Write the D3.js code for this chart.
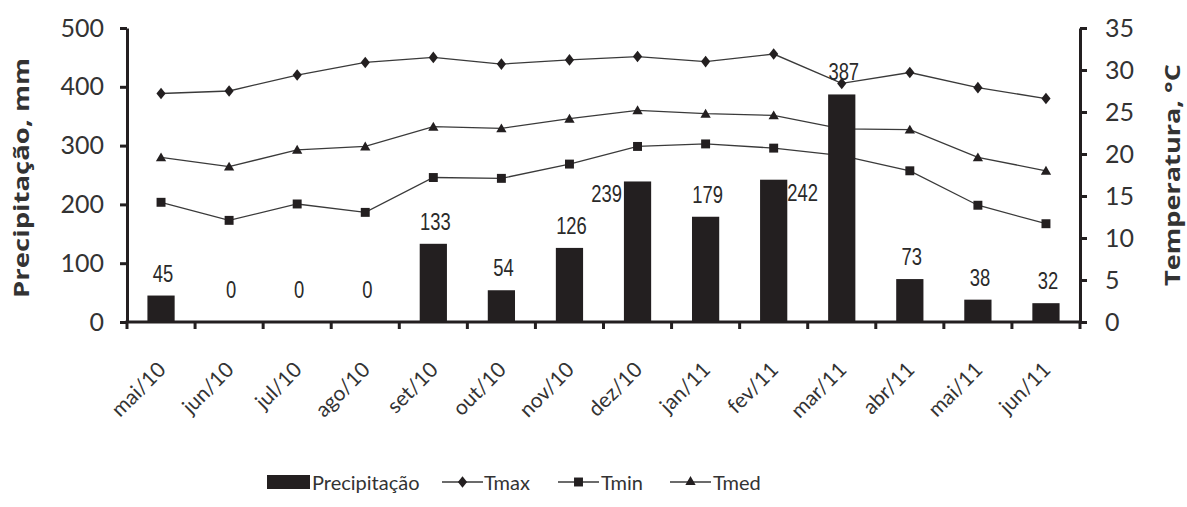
<!DOCTYPE html>
<html><head><meta charset="utf-8">
<script src="https://cdn.jsdelivr.net/npm/d3@7"></script>
<style>
html,body{margin:0;padding:0;background:#fff;}
svg{display:block;}
</style></head>
<body>
<svg id="chart" width="1187" height="507"></svg>
<script>
const categories = ["mai/10","jun/10","jul/10","ago/10","set/10","out/10","nov/10","dez/10","jan/11","fev/11","mar/11","abr/11","mai/11","jun/11"];
const precipitacao = [45,0,0,0,133,54,126,239,179,242,387,73,38,32];
const tmax = [27.2,27.5,29.4,30.9,31.5,30.7,31.2,31.6,31.0,31.9,28.4,29.7,27.9,26.6];
const tmin = [14.25,12.1,14.05,13.05,17.2,17.1,18.8,20.9,21.2,20.7,19.8,18.0,13.9,11.7];
const tmed = [19.6,18.5,20.5,20.9,23.25,23.05,24.2,25.2,24.8,24.6,23.0,22.9,19.6,18.0];
const leftTicks = [0,100,200,300,400,500];
const rightTicks = [0,5,10,15,20,25,30,35];
const legendLabels = ["Precipitação","Tmax","Tmin","Tmed"];

const ink = "#231f20";
const svg = d3.select("#chart");
const L = 127, R = 1080, T = 28, B = 322;

const x = d3.scaleBand().domain(categories).range([L, R]).paddingInner(0.6).paddingOuter(0.3);
const yL = d3.scaleLinear().domain([0, 500]).range([B, T]);
const yR = d3.scaleLinear().domain([0, 35]).range([B, T]);
const cx = c => x(c) + x.bandwidth() / 2;

// custom diamond
const diamond = { draw(ctx, size) { const w = 4.6, h = 5.8; ctx.moveTo(0,-h); ctx.lineTo(w,0); ctx.lineTo(0,h); ctx.lineTo(-w,0); ctx.closePath(); } };
const series = [
  { name: "Tmax", values: tmax, sym: d3.symbol().type(diamond)() },
  { name: "Tmin", values: tmin, sym: d3.symbol().type(d3.symbolSquare).size(80)() },
  { name: "Tmed", values: tmed, sym: d3.symbol().type(d3.symbolTriangle).size(46)() }
];

// lines
const line = d3.line().x((d,i) => cx(categories[i])).y(d => yR(d));
series.forEach(s => {
  svg.append("path").attr("d", line(s.values)).attr("fill","none").attr("stroke","#3a3a3a").attr("stroke-width",1.3);
  svg.append("g").selectAll("path").data(s.values).join("path")
    .attr("d", s.sym)
    .attr("transform", (d,i) => `translate(${cx(categories[i])},${yR(d) + (s.name==="Tmed"?1:0)})`)
    .attr("fill", ink);
});

// bars
svg.append("g").selectAll("rect").data(precipitacao).join("rect")
  .attr("x", (d,i) => x(categories[i]))
  .attr("width", x.bandwidth())
  .attr("y", d => yL(d))
  .attr("height", d => B - yL(d))
  .attr("fill", ink);

// data labels (condensed look)
const side = { "dez/10": "left", "fev/11": "right" };
svg.append("g").selectAll("text").data(precipitacao).join("text")
  .attr("font-family", "'Liberation Sans', sans-serif")
  .attr("font-size", 23)
  .attr("fill", "#2a2a2a")
  .attr("text-anchor", (d,i) => side[categories[i]] === "left" ? "end" : side[categories[i]] === "right" ? "start" : "middle")
  .attr("transform", (d,i) => {
    const c = categories[i];
    let px;
    if (side[c] === "left") px = x(c) - 2;
    else if (side[c] === "right") px = x(c) + x.bandwidth();
    else px = cx(c) + 2;
    const py = side[c] ? yL(d) + 21 : Math.min(yL(d) - 14, B - 24);
    return `translate(${px},${py}) scale(0.8,1)`;
  })
  .text(d => d);

// left axis
const gL = svg.append("g").attr("transform", `translate(${L},0)`)
  .call(d3.axisLeft(yL).tickValues(leftTicks).tickSize(7).tickPadding(16).tickSizeOuter(0));
// right axis
const gR = svg.append("g").attr("transform", `translate(${R},0)`)
  .call(d3.axisRight(yR).tickValues(rightTicks).tickSize(7).tickPadding(18).tickSizeOuter(0));
[gL, gR].forEach(g => {
  g.select(".domain").attr("stroke", ink).attr("stroke-width", 3);
  g.selectAll(".tick line").attr("stroke", ink).attr("stroke-width", 3);
  g.selectAll(".tick text").attr("font-family", "Lato, sans-serif").attr("font-size", 25).attr("fill", "#333");
});

// bottom axis
svg.append("line").attr("x1", L - 1.5).attr("x2", R + 1.5).attr("y1", B).attr("y2", B).attr("stroke", ink).attr("stroke-width", 3);
svg.append("g").selectAll("line").data(d3.range(categories.length + 1)).join("line")
  .attr("x1", i => x.range()[0] + i * x.step()).attr("x2", i => x.range()[0] + i * x.step())
  .attr("y1", B).attr("y2", B + 7).attr("stroke", ink).attr("stroke-width", 3);
svg.append("g").selectAll("text").data(categories).join("text")
  .attr("transform", c => `translate(${cx(c) + 6},371) rotate(-45)`)
  .attr("text-anchor", "end")
  .attr("font-family", "Lato, sans-serif").attr("font-size", 21).attr("fill", "#333")
  .text(c => c);

// axis titles
svg.append("text").attr("transform", "translate(29,178) rotate(-90)")
  .attr("text-anchor", "middle").attr("font-family", "'Open Sans', sans-serif").attr("font-weight", "bold")
  .attr("font-size", 22).attr("fill", "#333")
  .attr("textLength", 240).attr("lengthAdjust", "spacingAndGlyphs")
  .text("Precipitação, mm");
svg.append("text").attr("transform", "translate(1180,175) rotate(-90)")
  .attr("text-anchor", "middle").attr("font-family", "'Open Sans', sans-serif").attr("font-weight", "bold")
  .attr("font-size", 22).attr("fill", "#333")
  .attr("textLength", 222).attr("lengthAdjust", "spacingAndGlyphs")
  .text("Temperatura, °C");

// legend
const lg = svg.append("g");
lg.append("rect").attr("x", 267).attr("y", 475).attr("width", 43).attr("height", 14).attr("fill", ink);
const legendItems = [
  { x0: 442, sym: series[0].sym },
  { x0: 558, sym: series[1].sym },
  { x0: 670, sym: series[2].sym }
];
legendItems.forEach(it => {
  lg.append("line").attr("x1", it.x0).attr("x2", it.x0 + 41).attr("y1", 482).attr("y2", 482).attr("stroke", "#3a3a3a").attr("stroke-width", 1.3);
  lg.append("path").attr("d", it.sym).attr("transform", `translate(${it.x0 + 20.5},482)`).attr("fill", ink);
});
const ltx = [312, 484, 601, 713];
lg.selectAll("text").data(legendLabels).join("text")
  .attr("x", (d,i) => ltx[i]).attr("y", 490)
  .attr("font-family", "Lato, sans-serif").attr("font-size", 20).attr("fill", "#333")
  .text(d => d);
</script>
</body></html>
